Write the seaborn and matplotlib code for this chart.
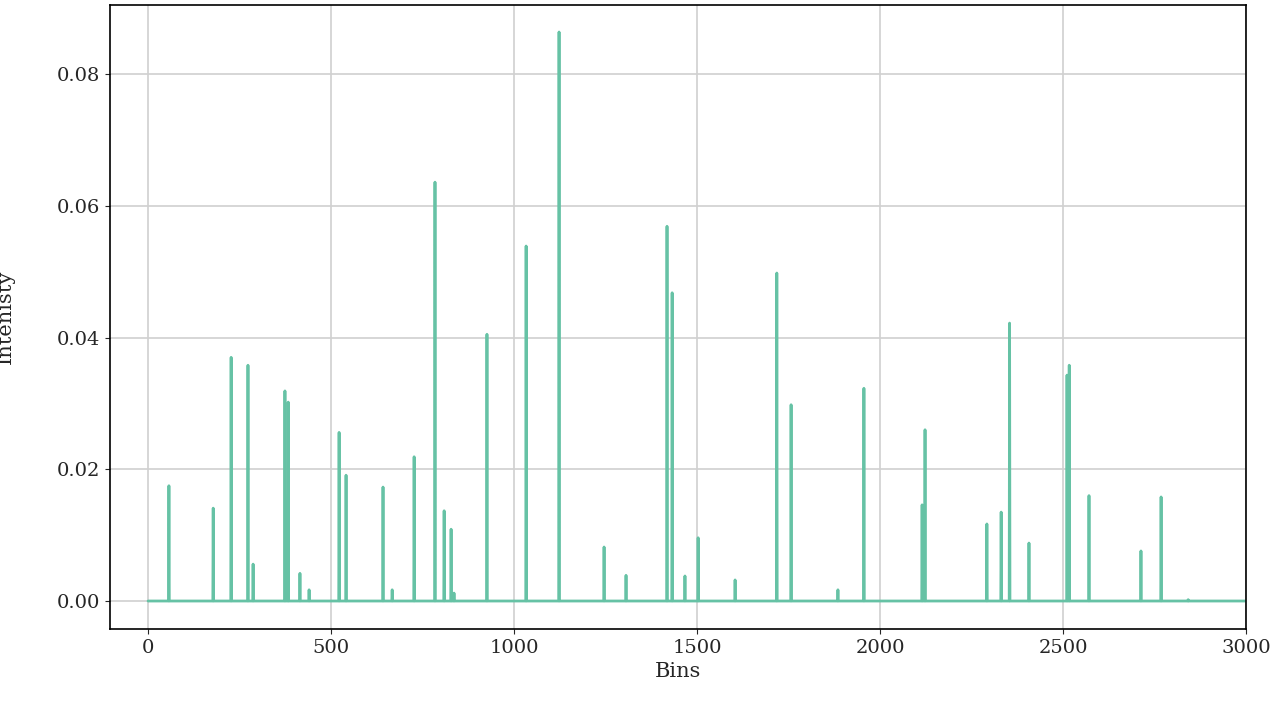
import numpy as np
import pandas as pd
import matplotlib.pyplot as plt
import seaborn as sns

peak_bins = [57, 178, 227, 273, 287, 374, 383, 415, 440, 522, 541, 642, 667, 727, 784,
             809, 828, 836, 926, 1033, 1123, 1246, 1306, 1418, 1432, 1467, 1503, 1604,
             1718, 1757, 1885, 1956, 2115, 2123, 2292, 2331, 2354, 2407, 2511, 2517,
             2571, 2713, 2768, 2842]
peak_vals = [0.0175, 0.0141, 0.0370, 0.0358, 0.0056, 0.0319, 0.0302, 0.0042, 0.0017,
             0.0256, 0.0191, 0.0173, 0.0017, 0.0219, 0.0636, 0.0137, 0.0109, 0.0012,
             0.0405, 0.0539, 0.0864, 0.0082, 0.0039, 0.0569, 0.0468, 0.0038, 0.0096,
             0.0032, 0.0498, 0.0298, 0.0017, 0.0323, 0.0146, 0.0260, 0.0117, 0.0135,
             0.0422, 0.0088, 0.0343, 0.0358, 0.0160, 0.0076, 0.0158, 0.0002]
n_bins = 3000

intensity = np.zeros(n_bins)
intensity[peak_bins] = peak_vals
df = pd.DataFrame({"Bins": np.arange(n_bins), "Intenisty": intensity})

sns.set_style("ticks")
plt.rcParams["font.family"] = ["DejaVu Serif"]
fig = plt.figure(figsize=(12.8, 7.1), dpi=100)
ax = fig.add_axes([110/1280, 1 - 629/710, 1136/1280, 624/710])
sns.lineplot(x="Bins", y="Intenisty", data=df, estimator=None, color="#66c2a5", lw=2, ax=ax)
ax.grid(True, color="#d0d0d0", lw=1.2)
ax.set_axisbelow(True)
ax.set_xlim(-104, 3000)
ax.set_ylim(-0.00425, 0.0905)
ax.set_yticks([0, 0.02, 0.04, 0.06, 0.08])
ax.tick_params(labelsize=14)
ax.set_xlabel("Bins", fontsize=15)
ax.set_ylabel("Intenisty", fontsize=15, labelpad=30)
for s in ax.spines.values():
    s.set_color("black")
    s.set_linewidth(1.2)
plt.savefig("out.png")
